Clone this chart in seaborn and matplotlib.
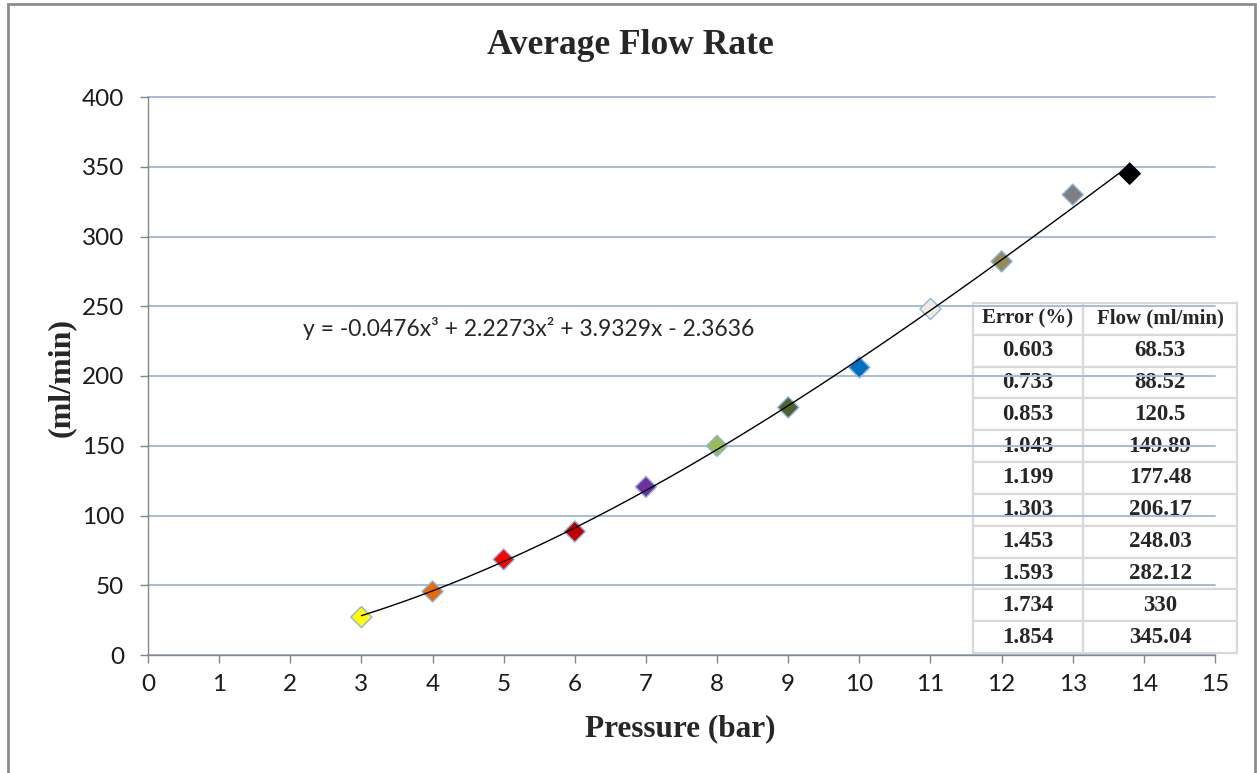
import numpy as np
import pandas as pd
import matplotlib
matplotlib.use("Agg")
import matplotlib.pyplot as plt
from matplotlib.patches import Rectangle
from matplotlib.font_manager import FontProperties
import seaborn as sns

# ---- data ----
pressure = [3, 4, 5, 6, 7, 8, 9, 10, 11, 12, 13, 13.8]
flow = [27.2, 45.5, 68.53, 88.52, 120.5, 149.89, 177.48, 206.17, 248.03, 282.12, 330, 345.04]
point_colors = ["#FFFF00", "#E46C0A", "#FF0000", "#C00000", "#7030A0", "#9BBB59",
                "#4F6228", "#0070C0", "#EEECE1", "#948A54", "#7F7F7F", "#000000"]
edge_colors = ["#8EB4E3"] * 11 + ["#000000"]
trend_coefs = [-0.0476, 2.2273, 3.9329, -2.3636]  # cubic, highest power first
equation_label = "y = -0.0476x³ + 2.2273x² + 3.9329x - 2.3636"
table_header = ["Error (%)", "Flow (ml/min)"]
table_error = ["0.603", "0.733", "0.853", "1.043", "1.199", "1.303", "1.453", "1.593", "1.734", "1.854"]
table_flow = ["68.53", "88.52", "120.5", "149.89", "177.48", "206.17", "248.03", "282.12", "330", "345.04"]
x_ticks = list(range(0, 16))
y_ticks = list(range(0, 401, 50))
title = "Average Flow Rate"
x_label = "Pressure (bar)"
y_label = "(ml/min)"

sns.set_style("white")
plt.rcParams["font.family"] = ["Lato", "DejaVu Sans"]

W, H = 1257, 773
fig = plt.figure(figsize=(W / 100, H / 100), dpi=100)
ax = fig.add_axes([148 / W, 1 - 655 / H, 1067 / W, 558 / H])

df = pd.DataFrame({"pressure": pressure, "flow": flow,
                   "pt": [str(p) for p in pressure]})

# trend line
xs = np.linspace(min(pressure), max(pressure), 300)
ys = np.polyval(trend_coefs, xs)
sns.lineplot(x=xs, y=ys, ax=ax, color="black", lw=1.0, zorder=4)

# points
sns.scatterplot(data=df, x="pressure", y="flow", hue="pt",
                palette=point_colors, marker="D", s=115, ax=ax,
                legend=False, zorder=3, linewidth=1.0)
ax.collections[-1].set_edgecolors(edge_colors)

ax.set_xlim(0, 15)
ax.set_ylim(0, 400)
ax.set_xticks(x_ticks)
ax.set_yticks(y_ticks)
ax.set_xlabel("")
ax.set_ylabel("")
ax.tick_params(axis="both", labelsize=17.5, colors="#868686", labelcolor="#1a1a1a",
               length=6, width=1)
ax.tick_params(axis="x", direction="out", pad=8, bottom=True)
ax.tick_params(axis="y", direction="out", pad=11, left=True)
for s in ["top", "right"]:
    ax.spines[s].set_visible(False)
for s in ["left", "bottom"]:
    ax.spines[s].set_color("#868686")
    ax.spines[s].set_linewidth(1)
ax.set_axisbelow("line")
ax.yaxis.grid(True, color="#A4BCE0", lw=1.4)
ax.xaxis.grid(False)
for gl in ax.get_ygridlines():
    gl.set_clip_on(False)

# table
rows = [[e, f] for e, f in zip(table_error, table_flow)]
tbl = ax.table(cellText=rows, colLabels=table_header, cellLoc="center",
               colWidths=[110 / 264, 154 / 264],
               bbox=[(973 - 148) / 1067, (655 - 653) / 558, 264 / 1067, 350 / 558])
tbl.auto_set_font_size(False)
tbl.set_zorder(1)
tbl.set_clip_on(False)
fp_head = FontProperties(family="Liberation Serif", weight="bold", size=15)
fp_body = FontProperties(family="Liberation Serif", weight="bold", size=16.5)
for (r, c), cell in tbl.get_celld().items():
    cell.set_edgecolor("#D9D9D9")
    cell.set_linewidth(1.6)
    cell.set_facecolor("white")
    cell.set_clip_on(False)
    cell.get_text().set_fontproperties(fp_head if r == 0 else fp_body)
    cell.get_text().set_clip_on(False)

# texts
serif_bold = dict(family="Liberation Serif", weight="bold")
fig.text(630 / W, 1 - 45 / H, title, ha="center", va="center", fontsize=25.5, **serif_bold)
fig.text(680 / W, 1 - 729 / H, x_label, ha="center", va="center", fontsize=22.5, **serif_bold)
fig.text(61 / W, 1 - 377 / H, y_label, ha="center", va="center", rotation=90,
         fontsize=23, **serif_bold)
fig.text(303 / W, 1 - 328 / H, equation_label, ha="left", va="center", fontsize=16.5)

# outer border
fig.add_artist(Rectangle((8 / W, -0.01), (1255 - 8) / W, 1 - 4 / H + 0.01,
                         transform=fig.transFigure, fill=False,
                         edgecolor="#8C8C8C", lw=2))

fig.savefig("out.png", dpi=100)
